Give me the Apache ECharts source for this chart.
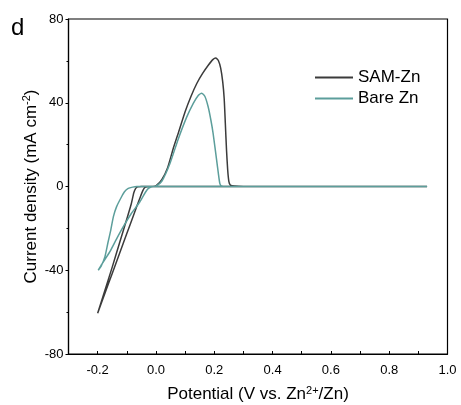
<!DOCTYPE html>
<html>
<head>
<meta charset="utf-8">
<script src="https://cdn.jsdelivr.net/npm/echarts@6/dist/echarts.min.js"></script>
<style>html,body{margin:0;padding:0;background:#fff}#c{width:461px;height:405px}</style>
</head>
<body>
<div id="c"></div>
<script>
const seriesNames = ['SAM-Zn', 'Bare Zn'];
const samZn = [
  [0.93,0],[0.6,0],[0.3,0],[0.1,0],[0.0,0],[-0.05,0],[-0.063,-0.2],[-0.07,-1],[-0.076,-3],
  [-0.085,-8.5],[-0.1,-15.5],[-0.125,-27],[-0.15,-38.5],[-0.175,-49.5],[-0.2,-60.5],
  [-0.175,-51],[-0.15,-41.5],[-0.125,-32],[-0.1,-22.5],[-0.075,-13],[-0.055,-5.5],
  [-0.045,-2],[-0.038,-0.5],[-0.03,-0.1],[-0.01,0],[0.0,0.3],[0.02,3.3],[0.04,9],[0.06,18.5],
  [0.08,27],[0.1,35.7],[0.12,43],[0.14,49.2],[0.16,54],[0.18,58],[0.195,60.6],[0.205,61.4],
  [0.214,60.2],[0.222,56.5],[0.229,50],[0.234,42],[0.238,30],[0.242,17.4],[0.246,8],
  [0.25,2.5],[0.255,0.7],[0.27,0.2],[0.3,0],[0.93,0]
];
const bareZn = [
  [0.93,0],[0.6,0],[0.3,0],[0.1,0],[0.0,0],[-0.05,0],[-0.066,0],[-0.08,-0.3],[-0.095,-0.9],
  [-0.108,-2.5],[-0.118,-4.9],[-0.135,-9.6],[-0.146,-14.4],[-0.155,-20.8],[-0.165,-27],
  [-0.175,-33.5],[-0.188,-38],[-0.198,-40],
  [-0.185,-37],[-0.158,-31.1],[-0.135,-25],[-0.112,-19.2],[-0.085,-13],[-0.055,-7.3],
  [-0.035,-2.5],[-0.026,-0.9],[-0.015,-0.1],[0.0,0.2],[0.02,2.5],[0.048,11],[0.076,22.5],
  [0.105,33],[0.128,39.7],[0.145,43.5],[0.157,44.5],[0.168,43],[0.179,38.1],[0.188,32],
  [0.196,25.4],[0.208,12.7],[0.214,6.3],[0.219,1.5],[0.224,0.3],[0.24,0],[0.93,0]
];
const xTicks = [-0.3, 1.0, 0.1];
const yTicks = [-80, 80, 40];

const G = {left: 68.5, right: 13.5, top: 19, bottom: 51};
const W = 461, H = 405;
const chart = echarts.init(document.getElementById('c'), null, {renderer: 'canvas'});
const font = 'Liberation Sans, Arial, sans-serif';
chart.setOption({
  animation: false,
  textStyle: {fontFamily: font},
  grid: Object.assign({outerBoundsMode: 'none', containLabel: false}, G),
  legend: {
    orient: 'vertical', left: 315, top: 69, padding: 0, itemWidth: 38, itemHeight: 2, itemGap: 4,
    icon: 'rect',
    textStyle: {fontSize: 17, color: '#000', fontFamily: font},
    data: seriesNames
  },
  graphic: [
    {type: 'text', left: 11, top: 16, style: {text: 'd', fontSize: 24, fill: '#000', fontFamily: font}},
    {type: 'rect', z: 100, silent: true,
      shape: {x: G.left, y: G.top, width: W - G.left - G.right, height: H - G.top - G.bottom},
      style: {fill: 'none', stroke: '#000', lineWidth: 1.2}}
  ],
  xAxis: [{
    type: 'value', min: xTicks[0], max: xTicks[1], interval: xTicks[2],
    name: 'Potential (V vs. Zn{sup|2+}/Zn)', nameLocation: 'middle', nameGap: 31, nameMoveOverlap: false,
    nameTextStyle: {fontSize: 17, color: '#000', fontFamily: font,
      rich: {sup: {fontSize: 11, verticalAlign: 'top', padding: [0,0,8,0], fontFamily: font, color: '#000'}}},
    axisLine: {show: true, onZero: false, lineStyle: {color: '#000', width: 1.2}},
    axisTick: {show: true, inside: true, length: 3, lineStyle: {color: '#000'}},
    splitLine: {show: false},
    axisLabel: {fontSize: 13, color: '#000', margin: 10, fontFamily: font,
      formatter: v => { const r = Math.round(v * 10); return (r % 2 === 0) ? (r / 10).toFixed(1) : ''; }}
  }],
  yAxis: [{
    type: 'value', min: yTicks[0], max: yTicks[1], interval: yTicks[2],
    name: 'Current density (mA cm{sup|-2})', nameLocation: 'middle', nameGap: 28, nameRotate: 90, nameMoveOverlap: false,
    nameTextStyle: {fontSize: 17, color: '#000', fontFamily: font,
      rich: {sup: {fontSize: 11, verticalAlign: 'top', padding: [0,0,8,0], fontFamily: font, color: '#000'}}},
    axisLine: {show: true, onZero: false, lineStyle: {color: '#000', width: 1.2}},
    axisTick: {show: true, inside: false, length: 3, lineStyle: {color: '#000'}},
    minorTick: {show: true, splitNumber: 2, length: 2, lineStyle: {color: '#000'}},
    splitLine: {show: false},
    axisLabel: {fontSize: 13, color: '#000', margin: 5, fontFamily: font}
  }],
  series: [
    {name: seriesNames[0], type: 'line', data: samZn, showSymbol: false, smooth: 0.2,
      lineStyle: {color: '#3b3b3b', width: 1.5}, itemStyle: {color: '#3b3b3b'}},
    {name: seriesNames[1], type: 'line', data: bareZn, showSymbol: false, smooth: 0.2,
      lineStyle: {color: '#5c9e9b', width: 1.5}, itemStyle: {color: '#5c9e9b'}}
  ]
});
</script>
</body>
</html>
